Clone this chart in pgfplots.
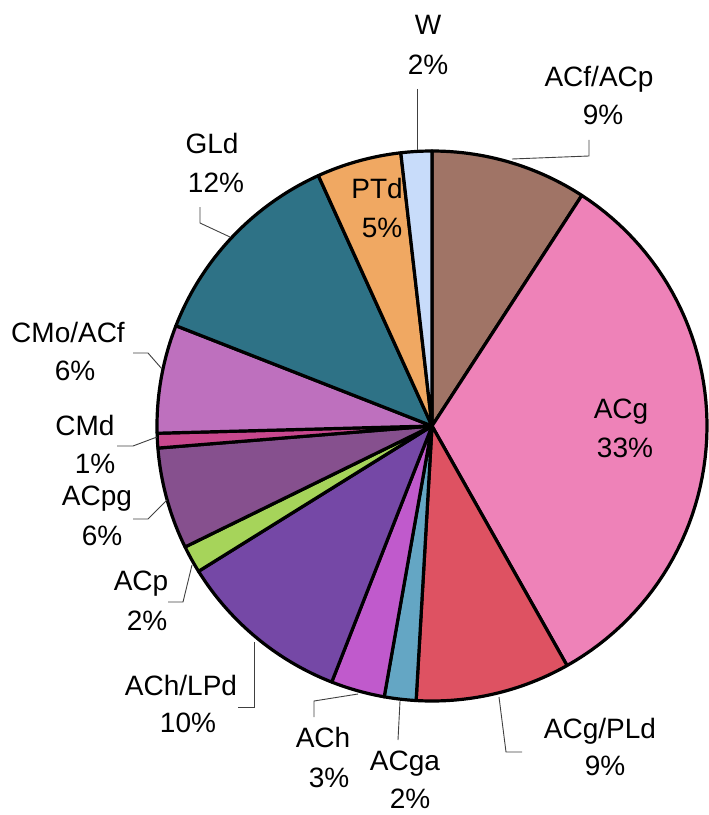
\documentclass[border=0pt]{standalone}
\usepackage{pgfplots}
\pgfplotsset{compat=1.18}
\usepackage{fontspec}
\setmainfont{Liberation Sans}
\newcommand\lab{\fontsize{28bp}{30bp}\selectfont}
\definecolor{cACfACp}{HTML}{A07466}
\definecolor{cACg}{HTML}{EE82B8}
\definecolor{cACgPLd}{HTML}{DE5262}
\definecolor{cACga}{HTML}{64A6C4}
\definecolor{cACh}{HTML}{C05ACC}
\definecolor{cAChLPd}{HTML}{7548A6}
\definecolor{cACp}{HTML}{A6D45A}
\definecolor{cACpg}{HTML}{86508E}
\definecolor{cCMd}{HTML}{C8488E}
\definecolor{cCMoACf}{HTML}{BE70BE}
\definecolor{cGLd}{HTML}{2E7286}
\definecolor{cPTd}{HTML}{F0A862}
\definecolor{cW}{HTML}{C8DCFA}
\begin{document}
\begin{tikzpicture}
\path[use as bounding box] (0,0) rectangle (709bp,815bp);
\begin{axis}[
  at={(0,0)}, anchor=south west,
  scale only axis, width=709bp, height=815bp,
  xmin=0, xmax=709, ymin=0, ymax=815, y dir=reverse,
  hide axis, clip=false,
]
% slices: shares in percent, clockwise from 12 o'clock
% ACf/ACp 9.17, ACg 32.66, ACg/PLd 9.09, ACga 1.86, ACh 3.16, ACh/LPd 10.20,
% ACp 1.61, ACpg 5.97, CMd 0.86, CMo/ACf 6.36, GLd 12.28, PTd 4.97, W 1.81
\pgfplotsset{slice/.style={draw=black, line width=3.2bp, line join=round, samples=60}}
\addplot[slice, fill=cACfACp, domain=0:9.17] ({432+275*cos(90-3.6*x)},{426-275*sin(90-3.6*x)}) -- (axis cs:432,426) -- cycle;
\addplot[slice, fill=cACg, domain=9.17:41.83] ({432+275*cos(90-3.6*x)},{426-275*sin(90-3.6*x)}) -- (axis cs:432,426) -- cycle;
\addplot[slice, fill=cACgPLd, domain=41.83:50.92] ({432+275*cos(90-3.6*x)},{426-275*sin(90-3.6*x)}) -- (axis cs:432,426) -- cycle;
\addplot[slice, fill=cACga, domain=50.92:52.78] ({432+275*cos(90-3.6*x)},{426-275*sin(90-3.6*x)}) -- (axis cs:432,426) -- cycle;
\addplot[slice, fill=cACh, domain=52.78:55.94] ({432+275*cos(90-3.6*x)},{426-275*sin(90-3.6*x)}) -- (axis cs:432,426) -- cycle;
\addplot[slice, fill=cAChLPd, domain=55.94:66.14] ({432+275*cos(90-3.6*x)},{426-275*sin(90-3.6*x)}) -- (axis cs:432,426) -- cycle;
\addplot[slice, fill=cACp, domain=66.14:67.75] ({432+275*cos(90-3.6*x)},{426-275*sin(90-3.6*x)}) -- (axis cs:432,426) -- cycle;
\addplot[slice, fill=cACpg, domain=67.75:73.72] ({432+275*cos(90-3.6*x)},{426-275*sin(90-3.6*x)}) -- (axis cs:432,426) -- cycle;
\addplot[slice, fill=cCMd, domain=73.72:74.58] ({432+275*cos(90-3.6*x)},{426-275*sin(90-3.6*x)}) -- (axis cs:432,426) -- cycle;
\addplot[slice, fill=cCMoACf, domain=74.58:80.94] ({432+275*cos(90-3.6*x)},{426-275*sin(90-3.6*x)}) -- (axis cs:432,426) -- cycle;
\addplot[slice, fill=cGLd, domain=80.94:93.22] ({432+275*cos(90-3.6*x)},{426-275*sin(90-3.6*x)}) -- (axis cs:432,426) -- cycle;
\addplot[slice, fill=cPTd, domain=93.22:98.19] ({432+275*cos(90-3.6*x)},{426-275*sin(90-3.6*x)}) -- (axis cs:432,426) -- cycle;
\addplot[slice, fill=cW, domain=98.19:100] ({432+275*cos(90-3.6*x)},{426-275*sin(90-3.6*x)}) -- (axis cs:432,426) -- cycle;
% leader lines
\pgfplotsset{leader/.style={draw=black!75, line width=0.9bp}}
\addplot[leader] coordinates {(417,89) (417,150)};
\addplot[leader] coordinates {(589,140) (589,156) (512,159)};
\addplot[leader] coordinates {(200,207) (200,223) (230,237)};
\addplot[leader] coordinates {(133,353) (148,353) (162,369)};
\addplot[leader] coordinates {(117,446) (133,446) (157,437)};
\addplot[leader] coordinates {(133,519) (148,519) (167,500)};
\addplot[leader] coordinates {(168,602) (183,602) (192,565)};
\addplot[leader] coordinates {(238,707) (254,707) (254,642)};
\addplot[leader] coordinates {(314,717) (314,701) (358,694)};
\addplot[leader] coordinates {(398,740) (400,701)};
\addplot[leader] coordinates {(522,752) (506,752) (499,697)};
% labels
\node[anchor=base, font=\lab] at (axis cs:428,35) {W};
\node[anchor=base, font=\lab] at (axis cs:428,75) {2\%};
\node[anchor=base, font=\lab] at (axis cs:599,87) {ACf/ACp};
\node[anchor=base, font=\lab] at (axis cs:603,125) {9\%};
\node[anchor=base, font=\lab] at (axis cs:212,153) {GLd};
\node[anchor=base, font=\lab] at (axis cs:216,192) {12\%};
\node[anchor=base, font=\lab] at (axis cs:377,198) {PTd};
\node[anchor=base, font=\lab] at (axis cs:382,237) {5\%};
\node[anchor=base, font=\lab] at (axis cs:621,418) {ACg};
\node[anchor=base, font=\lab] at (axis cs:625,457) {33\%};
\node[anchor=base, font=\lab] at (axis cs:68,342) {CMo/ACf};
\node[anchor=base, font=\lab] at (axis cs:75,380) {6\%};
\node[anchor=base, font=\lab] at (axis cs:85,435) {CMd};
\node[anchor=base, font=\lab] at (axis cs:95,473) {1\%};
\node[anchor=base, font=\lab] at (axis cs:97,505) {ACpg};
\node[anchor=base, font=\lab] at (axis cs:102,545) {6\%};
\node[anchor=base, font=\lab] at (axis cs:141,590) {ACp};
\node[anchor=base, font=\lab] at (axis cs:147,630) {2\%};
\node[anchor=base, font=\lab] at (axis cs:181,695) {ACh/LPd};
\node[anchor=base, font=\lab] at (axis cs:188,732) {10\%};
\node[anchor=base, font=\lab] at (axis cs:323,747) {ACh};
\node[anchor=base, font=\lab] at (axis cs:329,787) {3\%};
\node[anchor=base, font=\lab] at (axis cs:405,770) {ACga};
\node[anchor=base, font=\lab] at (axis cs:410,808) {2\%};
\node[anchor=base, font=\lab] at (axis cs:600,738) {ACg/PLd};
\node[anchor=base, font=\lab] at (axis cs:605,775) {9\%};
\end{axis}
\end{tikzpicture}
\end{document}
